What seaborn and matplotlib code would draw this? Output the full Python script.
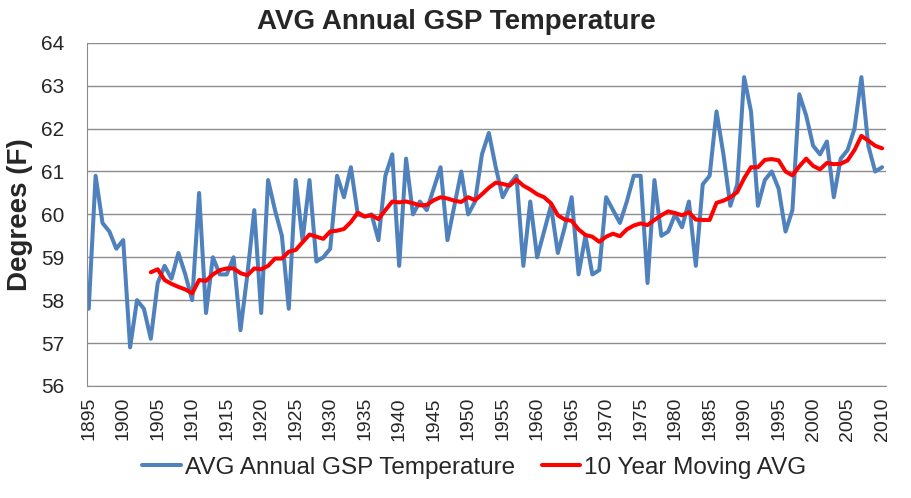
import numpy as np
import pandas as pd
import matplotlib
matplotlib.use("Agg")
import matplotlib.pyplot as plt
import seaborn as sns

# annual average temperature, 1895-2010
years = list(range(1895, 2011))
annual_temp = [
    57.8, 60.9, 59.8, 59.6, 59.2, 59.4, 56.9, 58.0, 57.8, 57.1,   # 1895-1904
    58.4, 58.8, 58.5, 59.1, 58.6, 58.0, 60.5, 57.7, 59.0, 58.6,   # 1905-1914
    58.6, 59.0, 57.3, 58.6, 60.1, 57.7, 60.8, 60.1, 59.5, 57.8,   # 1915-1924
    60.8, 59.4, 60.8, 58.9, 59.0, 59.2, 60.9, 60.4, 61.1, 60.0,   # 1925-1934
    59.95, 60.0, 59.4, 60.9, 61.4, 58.8, 61.3, 60.0, 60.3, 60.1,  # 1935-1944
    60.6, 61.1, 59.4, 60.2, 61.0, 60.0, 60.3, 61.4, 61.9, 61.1,   # 1945-1954
    60.4, 60.7, 60.9, 58.8, 60.3, 59.0, 59.6, 60.2, 59.1, 59.7,   # 1955-1964
    60.4, 58.6, 59.5, 58.6, 58.7, 60.4, 60.1, 59.8, 60.3, 60.9,   # 1965-1974
    60.9, 58.4, 60.8, 59.5, 59.6, 60.0, 59.7, 60.3, 58.8, 60.7,   # 1975-1984
    60.9, 62.4, 61.4, 60.2, 60.7, 63.2, 62.4, 60.2, 60.8, 61.0,   # 1985-1994
    60.6, 59.6, 60.1, 62.8, 62.3, 61.6, 61.4, 61.7, 60.4, 61.3,   # 1995-2004
    61.5, 62.0, 63.2, 61.6, 61.0, 61.1,                           # 2005-2010
]

# 10 year moving average, 1904-2010
ma_years = list(range(1904, 2011))
moving_avg = [
    58.65, 58.72, 58.47, 58.38, 58.31, 58.25, 58.16, 58.47, 58.45, 58.60,  # 1904-1913
    58.70, 58.74, 58.74, 58.63, 58.58, 58.74, 58.72, 58.80, 58.97, 58.97,  # 1914-1923
    59.13, 59.17, 59.35, 59.53, 59.48, 59.43, 59.60, 59.62, 59.66, 59.82,  # 1924-1933
    60.04, 59.95, 59.98, 59.89, 60.10, 60.30, 60.28, 60.30, 60.26, 60.21,  # 1934-1943
    60.22, 60.33, 60.40, 60.37, 60.32, 60.29, 60.40, 60.33, 60.47, 60.62,  # 1944-1953
    60.74, 60.71, 60.67, 60.81, 60.67, 60.58, 60.47, 60.40, 60.26, 59.98,  # 1954-1963
    59.88, 59.85, 59.65, 59.52, 59.48, 59.36, 59.48, 59.55, 59.49, 59.65,  # 1964-1973
    59.74, 59.79, 59.75, 59.87, 59.98, 60.07, 60.03, 59.98, 60.05, 59.88,  # 1974-1983
    59.87, 59.87, 60.27, 60.32, 60.40, 60.52, 60.84, 61.10, 61.10, 61.27,  # 1984-1993
    61.29, 61.26, 61.00, 60.91, 61.12, 61.30, 61.13, 61.05, 61.20, 61.17,  # 1994-2003
    61.18, 61.26, 61.50, 61.83, 61.72, 61.60, 61.54,                      # 2004-2010
]

x_ticks = list(range(1895, 2011, 5))
y_ticks = list(range(56, 65))

BLUE = "#4F81BD"
RED = "#FF0000"
GRID = "#8C8C8C"

sns.set_style("white")
plt.rcParams["font.family"] = ["Liberation Sans", "DejaVu Sans"]

df_temp = pd.DataFrame({"year": years, "temp": annual_temp})
df_ma = pd.DataFrame({"year": ma_years, "temp": moving_avg})

fig, ax = plt.subplots(figsize=(9.12, 4.98), dpi=100)
fig.subplots_adjust(left=0.095, right=0.971, top=0.914, bottom=0.225)

sns.lineplot(data=df_temp, x="year", y="temp", ax=ax, color=BLUE, linewidth=2.9,
             label="AVG Annual GSP Temperature", legend=False)
sns.lineplot(data=df_ma, x="year", y="temp", ax=ax, color=RED, linewidth=2.9,
             label="10 Year Moving AVG", legend=False)

ax.set_xlim(1894.7, 2010.5)
ax.set_ylim(56, 64)
ax.set_xticks(x_ticks)
ax.set_xticklabels([str(t) for t in x_ticks], rotation=90, fontsize=14)
ax.set_yticks(y_ticks)
ax.set_yticklabels([str(t) for t in y_ticks], fontsize=15)
ax.tick_params(axis="x", length=0, pad=8)
ax.tick_params(axis="y", length=0, pad=16)

ax.grid(axis="y", color=GRID, linewidth=1.0)
ax.set_axisbelow(True)
for side in ["top", "right"]:
    ax.spines[side].set_visible(False)
ax.spines["left"].set_color(GRID)
ax.spines["bottom"].set_color(GRID)

ax.set_xlabel("")
ax.set_ylabel("Degrees (F)", fontsize=20, fontweight="bold", labelpad=6)
fig.suptitle("AVG Annual GSP Temperature", x=0.5, y=0.982, fontsize=20,
             fontweight="bold")

handles, labels = ax.get_legend_handles_labels()
fig.legend(handles, labels, loc="lower center", bbox_to_anchor=(0.52, -0.005), ncol=2,
           frameon=False, fontsize=17.5, handlelength=1.6, handletextpad=0.15,
           columnspacing=1.1)

plt.savefig("out.png", dpi=100)
